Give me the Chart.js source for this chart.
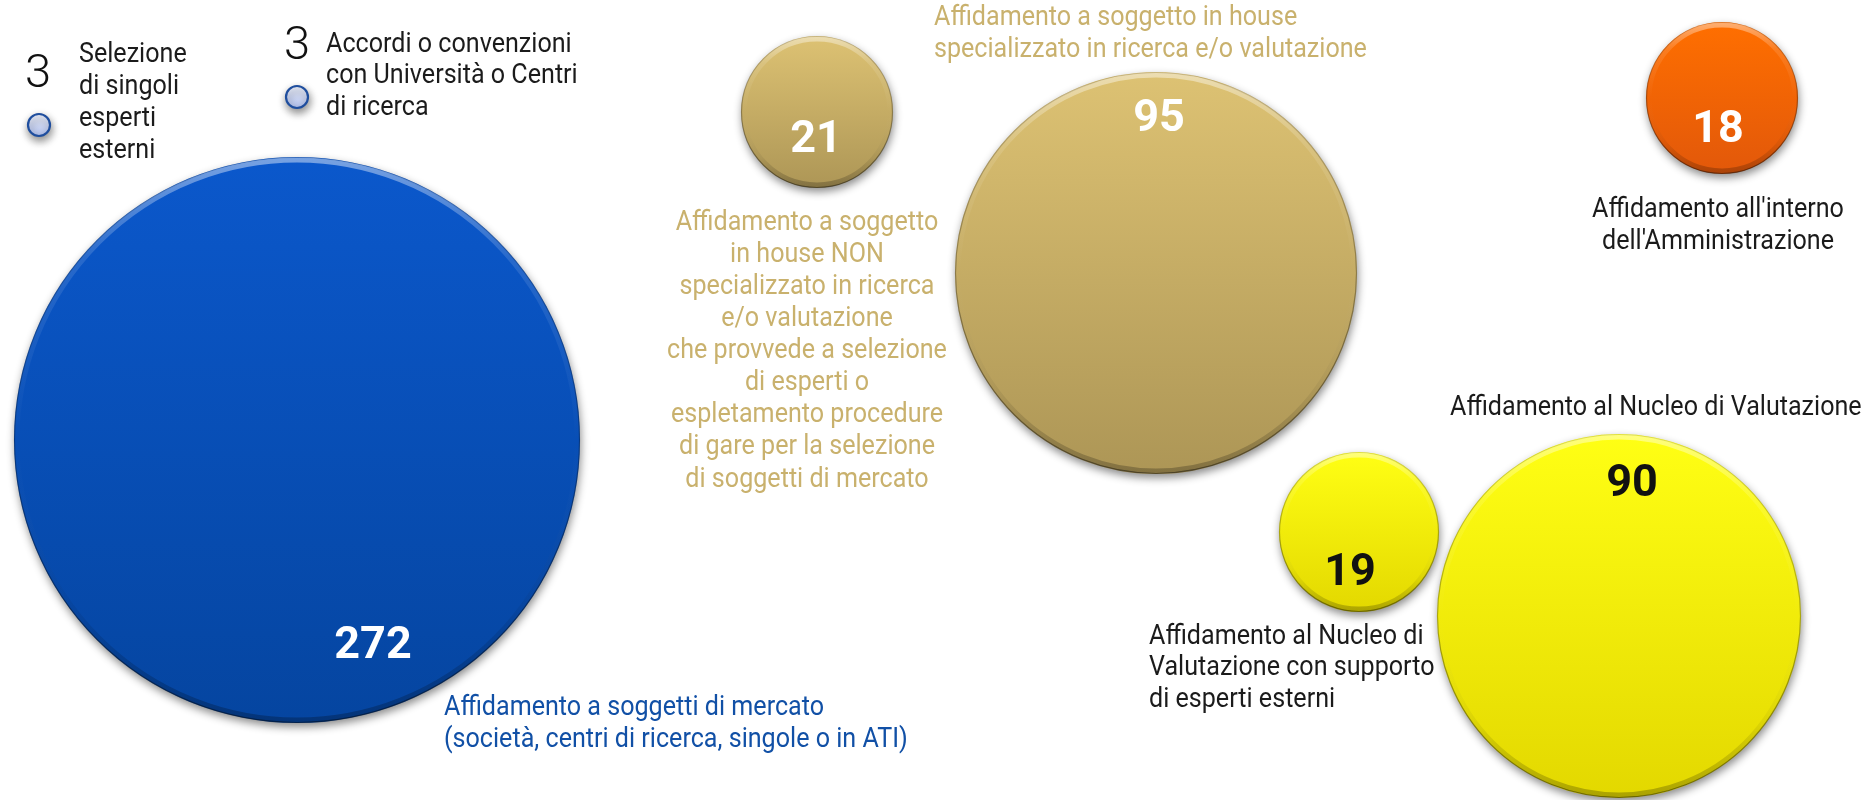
<!DOCTYPE html>
<html><head><meta charset="utf-8">
<script src="https://cdn.jsdelivr.net/npm/chart.js@4.4.1/dist/chart.umd.min.js"></script>
<style>html,body{margin:0;padding:0;background:#fff;overflow:hidden}</style>
</head><body>
<canvas id="c" width="1868" height="800"></canvas>
<script>
// ---------- data ----------
const categories = [
  "Affidamento a soggetti di mercato (società, centri di ricerca, singole o in ATI)",
  "Affidamento a soggetto in house NON specializzato in ricerca e/o valutazione che provvede a selezione di esperti o espletamento procedure di gare per la selezione di soggetti di mercato",
  "Affidamento a soggetto in house specializzato in ricerca e/o valutazione",
  "Affidamento all'interno dell'Amministrazione",
  "Affidamento al Nucleo di Valutazione con supporto di esperti esterni",
  "Affidamento al Nucleo di Valutazione",
  "Selezione di singoli esperti esterni",
  "Accordi o convenzioni con Università o Centri di ricerca"
];
const values = [272, 21, 95, 18, 19, 90, 3, 3];
const labelLines = [
  ["Affidamento a soggetti di mercato", "(società, centri di ricerca, singole o in ATI)"],
  ["Affidamento a soggetto", "in house NON", "specializzato in ricerca", "e/o valutazione", "che provvede a selezione", "di esperti o", "espletamento procedure", "di gare per la selezione", "di soggetti di mercato"],
  ["Affidamento a soggetto in house", "specializzato in ricerca e/o valutazione"],
  ["Affidamento all'interno", "dell'Amministrazione"],
  ["Affidamento al Nucleo di", "Valutazione con supporto", "di esperti esterni"],
  ["Affidamento al Nucleo di Valutazione"],
  ["Selezione", "di singoli", "esperti", "esterni"],
  ["Accordi o convenzioni", "con Università o Centri", "di ricerca"]
];

// ---------- layout (hidden axes: 0..1868 x 0..800) ----------
const posX = [297, 817, 1156, 1722, 1359, 1619, 39, 297];
const posY = [440, 112, 273, 98, 532, 616, 125, 97];
const bubbleR = [283, 76, 201, 76, 80, 182, 11, 11];
const numX = [373, 816, 1159, 1718, 1350, 1632, 38, 297];
const numY = [645, 139, 118, 129, 572, 483, 73, 45];
const labelX = [444, 807, 934, 1718, 1149, 1450, 79, 326];
const labelY = [708, 223, 18, 210, 637, 408, 55, 45];
const labelAlign = ['left', 'center', 'left', 'center', 'left', 'left', 'left', 'left'];
const lineGap = [32, 32.1, 32, 32, 31.5, 32, 32, 31.5];

// ---------- styles ----------
const BLUE = {top: '#0b58cc', bottom: '#0545a0', num: '#ffffff', label: '#1150a6'};
const GOLD = {top: '#ddc273', bottom: '#ad9656', num: '#ffffff', label: '#c9b16d'};
const ORANGE = {top: '#ff6f00', bottom: '#e2580a', num: '#ffffff', label: '#1b1b1b'};
const YELLOW = {top: '#ffff14', bottom: '#e3d800', num: '#111111', label: '#1b1b1b'};
const LIGHT = {top: '#eef2fd', bottom: '#b3c2ef', num: '#111111', label: '#1b1b1b', border: '#1f4e9e'};
const palette = [BLUE, GOLD, GOLD, ORANGE, YELLOW, YELLOW, LIGHT, LIGHT];
const FONT = 'Roboto, "Open Sans", sans-serif';
const TEXT_SX = 0.93;

function vertGradient(chart, i, top, bottom) {
  const ys = chart.scales.y;
  if (!ys) return top;
  const cy = ys.getPixelForValue(posY[i]);
  const r = bubbleR[i];
  if (!isFinite(cy)) return top;
  const g = chart.ctx.createLinearGradient(0, cy - r, 0, cy + r);
  g.addColorStop(0, top);
  g.addColorStop(1, bottom);
  return g;
}

function drawText(ctx, str, x, y, align, font, color, sx) {
  ctx.save();
  ctx.font = font;
  ctx.fillStyle = color;
  ctx.textAlign = align;
  ctx.textBaseline = 'middle';
  ctx.translate(x, y);
  ctx.scale(sx, 1);
  ctx.fillText(str, 0, 0);
  ctx.restore();
}

const decor = {
  id: 'decor',
  beforeDatasetsDraw(chart) {
    const c = chart.ctx;
    c.save();
    c.shadowColor = 'rgba(0,0,0,0.45)';
    c.shadowBlur = 9;
    c.shadowOffsetX = 1;
    c.shadowOffsetY = 4;
  },
  afterDatasetsDraw(chart) {
    const c = chart.ctx;
    c.restore();
    const meta = chart.getDatasetMeta(0);
    const xs = chart.scales.x, ys = chart.scales.y;
    meta.data.forEach((el, i) => {
      const r = el.options.radius;
      if (i < 6) {
        let g = c.createLinearGradient(0, el.y - r, 0, el.y + r);
        g.addColorStop(0, 'rgba(255,255,255,0.45)');
        g.addColorStop(0.18, 'rgba(255,255,255,0.12)');
        g.addColorStop(0.5, 'rgba(255,255,255,0)');
        g.addColorStop(0.8, 'rgba(0,0,0,0.06)');
        g.addColorStop(1, 'rgba(0,0,0,0.25)');
        c.save();
        c.beginPath();
        c.arc(el.x, el.y, r - 3, 0, Math.PI * 2);
        c.lineWidth = 5;
        c.strokeStyle = g;
        c.stroke();
        g = c.createLinearGradient(0, el.y - r, 0, el.y + r);
        g.addColorStop(0, 'rgba(0,0,0,0.12)');
        g.addColorStop(1, 'rgba(0,0,0,0.45)');
        c.beginPath();
        c.arc(el.x, el.y, r - 0.5, 0, Math.PI * 2);
        c.lineWidth = 1.2;
        c.strokeStyle = g;
        c.stroke();
        c.restore();
      }
      const p = palette[i];
      const big = i < 6;
      drawText(c, String(values[i]), xs.getPixelForValue(numX[i]), ys.getPixelForValue(numY[i]) + 2,
        'center', big ? '700 45px ' + FONT : '300 47px ' + FONT, p.num, 1);
      const lines = labelLines[i];
      lines.forEach((ln, k) => {
        drawText(c, ln, xs.getPixelForValue(labelX[i]), ys.getPixelForValue(labelY[i] + k * lineGap[i]),
          labelAlign[i], '400 27px ' + FONT, p.label, TEXT_SX);
      });
    });
  }
};

new Chart(document.getElementById('c'), {
  type: 'bubble',
  data: {
    datasets: [{
      label: 'Modalità di affidamento',
      data: values.map((v, i) => ({x: posX[i], y: posY[i], r: bubbleR[i], value: v, category: categories[i]})),
      backgroundColor: (ctx) => {
        if (ctx.type !== 'data') return '#888';
        const p = palette[ctx.dataIndex];
        return vertGradient(ctx.chart, ctx.dataIndex, p.top, p.bottom);
      },
      borderColor: (ctx) => ctx.type === 'data' && palette[ctx.dataIndex].border ? palette[ctx.dataIndex].border : 'rgba(0,0,0,0)',
      borderWidth: (ctx) => ctx.type === 'data' && palette[ctx.dataIndex].border ? 2.2 : 0,
      radius: 0,
      hoverRadius: 0,
      clip: false
    }]
  },
  options: {
    responsive: false,
    devicePixelRatio: 1,
    animation: false,
    events: [],
    layout: {padding: 0, autoPadding: false},
    scales: {
      x: {type: 'linear', min: 0, max: 1868, display: false},
      y: {type: 'linear', min: 0, max: 800, reverse: true, display: false}
    },
    plugins: {legend: {display: false}, tooltip: {enabled: false}}
  },
  plugins: [decor]
});
</script>
</body></html>
